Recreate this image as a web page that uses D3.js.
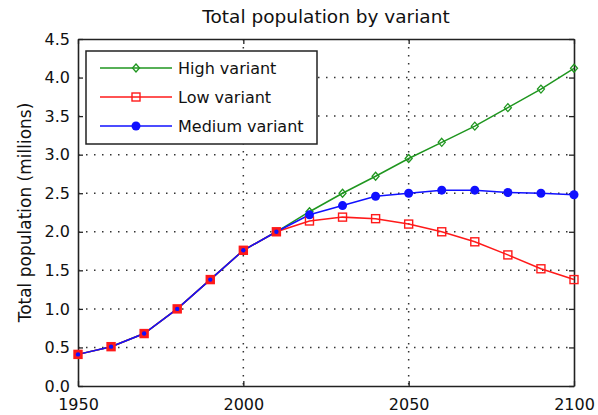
<!DOCTYPE html>
<html>
<head>
<meta charset="utf-8">
<script src="https://cdn.jsdelivr.net/npm/d3@7"></script>
<style>
  body { margin: 0; background: #fff; }
  text { font-family: "DejaVu Sans", sans-serif; fill: #111; }
</style>
</head>
<body>
<div id="chart"></div>
<script>
// Chart data
//

var years = [1950, 1960, 1970, 1980, 1990, 2000, 2010, 2020, 2030, 2040, 2050, 2060, 2070, 2080, 2090, 2100];
var high_variant = [0.41, 0.51, 0.68, 1.00, 1.38, 1.76, 2.00, 2.26, 2.50, 2.72, 2.95, 3.16, 3.37, 3.61, 3.85, 4.12];
var low_variant = [0.41, 0.51, 0.68, 1.00, 1.38, 1.76, 2.00, 2.14, 2.19, 2.17, 2.10, 2.00, 1.87, 1.70, 1.52, 1.38];
var medium_variant = [0.41, 0.51, 0.68, 1.00, 1.38, 1.76, 2.00, 2.22, 2.34, 2.46, 2.50, 2.54, 2.54, 2.51, 2.50, 2.48];
var last_estimate_year = 2010;
var x_ticks = [1950, 2000, 2050, 2100];
var y_ticks = [0, 0.5, 1, 1.5, 2, 2.5, 3, 3.5, 4, 4.5];
var series_names = ["High variant", "Low variant", "Medium variant"];

// Layout
//

var width = 598, height = 415;
var m_left = 78, m_right = 574, m_top = 39, m_bottom = 386;
var font = "'DejaVu Sans', sans-serif";

var svg = d3.select("#chart").append("svg")
  .attr("width", width)
  .attr("height", height);

var x = d3.scaleLinear().domain([1950, 2100]).range([m_left, m_right]);
var y = d3.scaleLinear().domain([0, 4.5]).range([m_bottom, m_top]);

// dotted grid
var grid = svg.append("g")
  .attr("stroke", "#333")
  .attr("stroke-width", 1.5)
  .attr("stroke-dasharray", "1.5,6.5");
grid.selectAll(".gx").data(x_ticks.slice(1, -1)).enter().append("line")
  .attr("x1", function(d) { return x(d); }).attr("x2", function(d) { return x(d); })
  .attr("y1", m_top).attr("y2", m_bottom);
grid.selectAll(".gy").data(y_ticks.slice(1, -1)).enter().append("line")
  .attr("x1", m_left).attr("x2", m_right)
  .attr("y1", function(d) { return y(d); }).attr("y2", function(d) { return y(d); });

// axes (matlab-ish box with inward ticks)
var ax_bottom = d3.axisBottom(x).tickValues(x_ticks).tickFormat(d3.format("d")).tickSizeInner(-5).tickSizeOuter(0).tickPadding(13);
var ax_top = d3.axisTop(x).tickValues(x_ticks).tickFormat("").tickSizeInner(-5).tickSizeOuter(0);
var ax_left = d3.axisLeft(y).tickValues(y_ticks).tickFormat(d3.format(".1f")).tickSizeInner(-5).tickSizeOuter(0).tickPadding(8);
var ax_right = d3.axisRight(y).tickValues(y_ticks).tickFormat("").tickSizeInner(-5).tickSizeOuter(0);

function style_axis(g) {
  g.select(".domain").attr("stroke", "#222").attr("stroke-width", 1.6);
  g.selectAll(".tick line").attr("stroke", "#222").attr("stroke-width", 1.3);
  g.selectAll("text").attr("font-size", 16).attr("fill", "#111")
    .attr("font-family", font);
}

svg.append("g").attr("transform", "translate(0," + m_bottom + ")").call(ax_bottom).call(style_axis);
svg.append("g").attr("transform", "translate(0," + m_top + ")").call(ax_top).call(style_axis);
svg.append("g").attr("transform", "translate(" + m_left + ",0)").call(ax_left).call(style_axis);
svg.append("g").attr("transform", "translate(" + m_right + ",0)").call(ax_right).call(style_axis);

// Lines
//

var series = [
  { name: series_names[0], values: high_variant, color: "#1f961f", marker: "diamond" },
  { name: series_names[1], values: low_variant, color: "#ff1a1a", marker: "square" },
  { name: series_names[2], values: medium_variant, color: "#1010ff", marker: "dot" }
];

var line = d3.line()
  .x(function(d) { return x(d.year); })
  .y(function(d) { return y(d.value); });

function points(s) {
  return years.map(function(yr, i) { return { year: yr, value: s.values[i] }; });
}

var plot = svg.append("g");

series.forEach(function(s) {
  plot.append("path")
    .datum(points(s))
    .attr("fill", "none")
    .attr("stroke", s.color)
    .attr("stroke-width", 1.5)
    .attr("d", line);
});

function draw_marker(g, kind, color, cx, cy, filled) {
  if (kind === "diamond") {
    g.append("path")
      .attr("d", "M" + cx + "," + (cy - 4) + "L" + (cx + 3.5) + "," + cy + "L" + cx + "," + (cy + 4) + "L" + (cx - 3.5) + "," + cy + "Z")
      .attr("fill", "none").attr("stroke", color).attr("stroke-width", 1.3);
  } else if (kind === "square") {
    g.append("rect")
      .attr("x", cx - 4).attr("y", cy - 4).attr("width", 8).attr("height", 8)
      .attr("fill", filled ? color : "none").attr("stroke", color).attr("stroke-width", 1.4);
  } else {
    g.append("circle")
      .attr("cx", cx).attr("cy", cy).attr("r", filled ? 4.5 : 2.2)
      .attr("fill", color);
  }
}

// projection markers
series.forEach(function(s) {
  points(s).forEach(function(p) {
    if (p.year > last_estimate_year) {
      draw_marker(plot, s.marker, s.color, x(p.year), y(p.value), s.marker !== "square");
    }
  });
});

// estimate markers: the three series coincide there
points(series[1]).forEach(function(p) {
  if (p.year <= last_estimate_year) {
    draw_marker(plot, "square", series[1].color, x(p.year), y(p.value), true);
  }
});
points(series[2]).forEach(function(p) {
  if (p.year <= last_estimate_year) {
    draw_marker(plot, "dot", series[2].color, x(p.year), y(p.value), false);
  }
});

// Legend
//

var legend = svg.append("g");
legend.append("rect")
  .attr("x", 86).attr("y", 51).attr("width", 231).attr("height", 93)
  .attr("fill", "#fff").attr("stroke", "#222").attr("stroke-width", 1.5);

series.forEach(function(s, i) {
  var ly = 68 + i * 29;
  legend.append("line")
    .attr("x1", 100).attr("x2", 172).attr("y1", ly).attr("y2", ly)
    .attr("stroke", s.color).attr("stroke-width", 1.5);
  draw_marker(legend, s.marker, s.color, 136, ly, s.marker === "dot");
  legend.append("text")
    .attr("x", 178).attr("y", ly + 6)
    .attr("font-size", 16)
    .text(s.name);
});

// Titles
//

svg.append("text")
  .attr("x", (m_left + m_right) / 2).attr("y", 23)
  .attr("text-anchor", "middle")
  .attr("font-size", 18.5)
  .text("Total population by variant");

svg.append("text")
  .attr("transform", "translate(31," + ((m_top + m_bottom) / 2) + ") rotate(-90)")
  .attr("text-anchor", "middle")
  .attr("font-size", 17)
  .text("Total population (millions)");
</script>
</body>
</html>
